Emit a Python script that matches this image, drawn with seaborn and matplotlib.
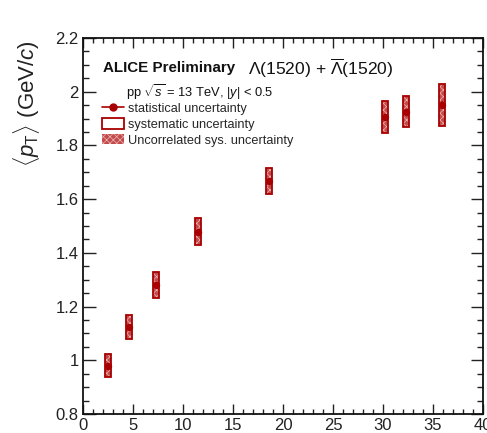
import numpy as np
import pandas as pd
import seaborn as sns
import matplotlib
matplotlib.use("Agg")
import matplotlib.pyplot as plt
from matplotlib.lines import Line2D
from matplotlib.patches import Patch
from matplotlib.ticker import MultipleLocator

# <dN_ch/deta> of each multiplicity class and the measured mean pT
dndeta = [2.5, 4.6, 7.3, 11.5, 18.6, 30.2, 32.3, 35.9]
mean_pt = [0.979, 1.125, 1.280, 1.479, 1.668, 1.907, 1.926, 1.951]
stat_err = [0.010, 0.008, 0.008, 0.009, 0.009, 0.011, 0.011, 0.014]
sys_err = [0.043, 0.045, 0.047, 0.050, 0.049, 0.059, 0.057, 0.078]
uncorr_sys_err = [0.043, 0.045, 0.047, 0.050, 0.049, 0.059, 0.057, 0.078]

x_ticks = [0, 5, 10, 15, 20, 25, 30, 35, 40]
y_ticks = [0.8, 1.0, 1.2, 1.4, 1.6, 1.8, 2.0, 2.2]
y_ticklabels = ["0.8", "1", "1.2", "1.4", "1.6", "1.8", "2", "2.2"]

df = pd.DataFrame({"dndeta": dndeta, "mean_pt": mean_pt, "stat": stat_err,
                   "sys": sys_err, "usys": uncorr_sys_err})

sns.set_style("ticks")
plt.rcParams["font.family"] = ["Liberation Sans", "DejaVu Sans"]
plt.rcParams["mathtext.fontset"] = "custom"
plt.rcParams["mathtext.rm"] = "Liberation Sans"
plt.rcParams["mathtext.it"] = "Liberation Sans:italic"
plt.rcParams["mathtext.bf"] = "Liberation Sans:bold"
plt.rcParams["hatch.linewidth"] = 0.5

dark_red = "#a80000"
hatch_face = "#c24a4a"
hatch_line = "#eab4b4"
box_w = 0.6

fig = plt.figure(figsize=(4.87, 4.33), dpi=100)
ax = fig.add_axes([83 / 487, 1 - 414 / 433, 400 / 487, 376 / 433])

# uncorrelated systematic uncertainty (hatched boxes)
ax.bar(df["dndeta"], 2 * df["usys"], bottom=df["mean_pt"] - df["usys"], width=box_w,
       facecolor=hatch_face, edgecolor=hatch_line, hatch="xxxxx", linewidth=0, zorder=2)
# total systematic uncertainty (open boxes)
ax.bar(df["dndeta"], 2 * df["sys"], bottom=df["mean_pt"] - df["sys"], width=box_w,
       fill=False, edgecolor=dark_red, linewidth=1.3, zorder=3)
# statistical uncertainty
ax.errorbar(df["dndeta"], df["mean_pt"], yerr=df["stat"], fmt="none",
            ecolor=dark_red, elinewidth=1.2, zorder=4)
sns.scatterplot(data=df, x="dndeta", y="mean_pt", ax=ax, color=dark_red, s=28,
                edgecolor=dark_red, linewidth=0, zorder=5, legend=False)

ax.set_xlim(0, 40)
ax.set_ylim(0.8, 2.2)
ax.set_xticks(x_ticks)
ax.set_xticklabels([str(t) for t in x_ticks])
ax.set_yticks(y_ticks)
ax.set_yticklabels(y_ticklabels)
ax.xaxis.set_minor_locator(MultipleLocator(1))
ax.yaxis.set_minor_locator(MultipleLocator(0.05))
ax.set_xlabel("")
ax.set_ylabel("")

for s in ax.spines.values():
    s.set_linewidth(1.3)
    s.set_color("#111111")
ax.tick_params(axis="both", which="both", direction="in", top=True, right=True,
               colors="#222222", labelcolor="#222222", labelsize=12, width=1.0)
ax.tick_params(axis="x", which="major", length=7, pad=3)
ax.tick_params(axis="x", which="minor", length=3.5)
ax.tick_params(axis="y", which="major", length=9, pad=3)
ax.tick_params(axis="y", which="minor", length=4.5)

fig.text(27 / 487, 1 - 40 / 433, r"$\langle p_{\mathrm{T}}\rangle$ (GeV/$c$)",
         rotation=90, ha="center", va="top", fontsize=16, color="#222222")

ax.text((103 - 83) / 400, 1 - (68 - 38) / 376, "ALICE Preliminary", transform=ax.transAxes,
        fontsize=10.9, fontweight="bold", va="center", ha="left", color="#111111")
ax.text((248 - 83) / 400, 1 - (68 - 38) / 376,
        r"$\Lambda$(1520) + $\overline{\Lambda}$(1520)", transform=ax.transAxes,
        fontsize=12.6, va="center", ha="left", color="#111111")
ax.text((126 - 83) / 400, 1 - (92 - 38) / 376,
        r"pp $\sqrt{s}$ = 13 TeV, |$y$| < 0.5", transform=ax.transAxes,
        fontsize=9.3, va="center", ha="left", color="#111111")

handles = [
    Line2D([], [], color=dark_red, marker="o", markersize=5, linewidth=1.2),
    Patch(fill=False, edgecolor=dark_red, linewidth=1.3),
    Patch(facecolor=hatch_face, edgecolor=hatch_line, hatch="xxxxx", linewidth=0),
]
labels = ["statistical uncertainty", "systematic uncertainty", "Uncorrelated sys. uncertainty"]
ax.legend(handles, labels, loc="upper left",
          bbox_to_anchor=((102 - 83) / 400, 1 - (102.5 - 38) / 376),
          frameon=False, fontsize=9.2, handlelength=1.7, handleheight=0.85,
          handletextpad=0.3, labelspacing=0.26, borderpad=0, borderaxespad=0)

fig.savefig("out.png", dpi=100)
